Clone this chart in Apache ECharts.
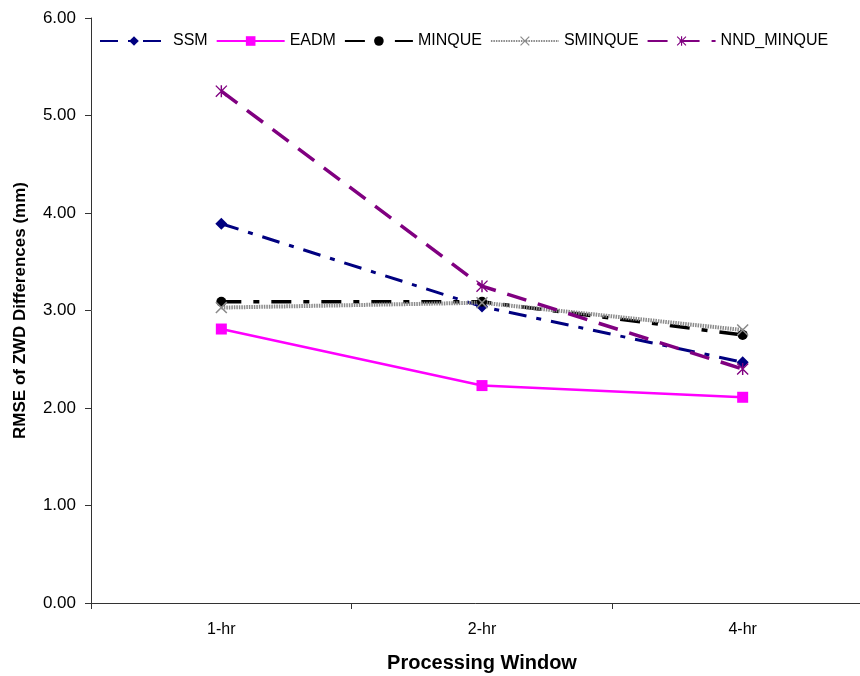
<!DOCTYPE html>
<html><head><meta charset="utf-8">
<script src="https://cdn.jsdelivr.net/npm/echarts@6/dist/echarts.min.js"></script>
<style>html,body{margin:0;padding:0;background:#fff}#c{width:860px;height:676px}</style>
</head><body><div id="c"></div>
<script>
var categories = ['1-hr', '2-hr', '4-hr'];
var ssm = [3.89, 3.04, 2.47];
var eadm = [2.81, 2.23, 2.11];
var minque = [3.09, 3.09, 2.75];
var sminque = [3.03, 3.08, 2.80];
var nndMinque = [5.25, 3.25, 2.40];
var yTicks = [0, 1, 2, 3, 4, 5, 6];

var asterisk = 'path://M4.4 0 H5.6 V10 H4.4 Z M0.8 0 L10 9.2 L9.2 10 L0 0.8 Z M9.2 0 L10 0.8 L0.8 10 L0 9.2 Z';
var cross = 'path://M0.9 0 L10 9.1 L9.1 10 L0 0.9 Z M9.1 0 L10 0.9 L0.9 10 L0 9.1 Z';

var F = 'Liberation Sans, Arial, sans-serif';
function mk(name, data, color, lineType, width, symbol, size) {
  return {
    name: name, type: 'line', data: data, symbol: symbol, symbolSize: size,
    showAllSymbol: true,
    lineStyle: { color: color, width: width, type: lineType },
    itemStyle: { color: color },
    z: 2
  };
}
var chart = echarts.init(document.getElementById('c'));
chart.setOption({
  animation: false,
  textStyle: { fontFamily: F },
  legend: {
    top: 28, left: 94, itemWidth: 68, itemHeight: 12, itemGap: 8,
    textStyle: { fontFamily: F, fontSize: 16, color: '#000' },
    data: ['SSM', 'EADM', 'MINQUE', 'SMINQUE', 'NND_MINQUE']
  },
  grid: { left: 91, top: 18, bottom: 73, width: 782, containLabel: false, outerBoundsMode: 'none' },
  xAxis: {
    type: 'category', data: categories, boundaryGap: true,
    axisLine: { lineStyle: { color: '#333', width: 1 } },
    axisTick: { show: true, length: 6, lineStyle: { color: '#333' } },
    axisLabel: { color: '#000', fontSize: 16, margin: 19, fontFamily: F },
    name: 'Processing Window', nameLocation: 'middle', nameGap: 50,
    nameTextStyle: { fontSize: 20, fontWeight: 'bold', color: '#000', fontFamily: F }
  },
  yAxis: {
    type: 'value', min: 0, max: 6, interval: 1,
    axisLine: { show: true, lineStyle: { color: '#333', width: 1 } },
    axisTick: { show: true, length: 6, lineStyle: { color: '#333' } },
    splitLine: { show: false },
    axisLabel: { color: '#000', fontSize: 17, margin: 15, fontFamily: F,
      formatter: function (v) { return v.toFixed(2); } },
    name: 'RMSE of ZWD Differences (mm)', nameLocation: 'middle', nameGap: 62,
    nameTextStyle: { fontSize: 17, fontWeight: 'bold', color: '#000', fontFamily: F }
  },
  series: [
    mk('SSM', ssm, '#000080', [18, 10, 5, 10], 3, 'diamond', 12),
    mk('EADM', eadm, '#ff00ff', 'solid', 2.5, 'rect', 11),
    mk('MINQUE', minque, '#000000', [20, 12, 6, 12], 3.5, 'circle', 10),
    mk('SMINQUE', sminque, '#8a8a8a', [1.5, 1], 4, cross, 12),
    mk('NND_MINQUE', nndMinque, '#800080', [20, 12], 3.5, asterisk, 12)
  ]
});
</script></body></html>
